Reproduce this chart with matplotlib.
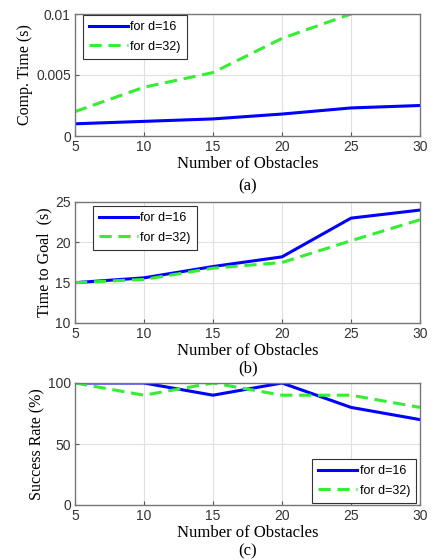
import numpy as np
import matplotlib.pyplot as plt

obstacles = [5, 10, 15, 20, 25, 30]
comp_d16 = [0.0010, 0.0012, 0.0014, 0.0018, 0.0023, 0.0025]
comp_d32 = [0.0020, 0.0040, 0.0052, 0.0080, 0.0100, 0.0120]
goal_d16 = [15.0, 15.6, 17.0, 18.2, 23.0, 24.0]
goal_d32 = [15.0, 15.4, 16.8, 17.5, 20.2, 22.8]
succ_d16 = [100, 100, 90, 100, 80, 70]
succ_d32 = [100, 90, 100, 90, 90, 80]
labels = ['for d=16', 'for d=32)']

sans = 'Liberation Sans'
serif = 'Liberation Serif'

fig = plt.figure(figsize=(4.32, 5.60), dpi=100)
W, H = 432.0, 560.0

def make_ax(top, bottom):
    return fig.add_axes([75 / W, 1 - bottom / H, 345 / W, (bottom - top) / H])

# axes, series, ylim, yticks, ylabel, caption, legend (left, top) px, caption y px
panels = [
    (make_ax(14, 136), comp_d16, comp_d32, (0, 0.01), [0, 0.005, 0.01], ['0', '0.005', '0.01'],
     'Comp. Time (s)', '(a)', (83, 15), 186),
    (make_ax(202, 323), goal_d16, goal_d32, (10, 25), [10, 15, 20, 25], ['10', '15', '20', '25'],
     'Time to Goal  (s)', '(b)', (93, 206), 368),
    (make_ax(383, 505), succ_d16, succ_d32, (0, 100), [0, 50, 100], ['0', '50', '100'],
     'Success Rate (%)', '(c)', (312, 459), 551),
]

for ax, d16, d32, ylim, yt, ytl, ylab, cap, legpos, capy in panels:
    ax.plot(obstacles, d16, color='#0000ff', lw=2.2, label=labels[0])
    ax.plot(obstacles, d32, color='#33ee33', lw=2.2, ls=(0, (4, 2.2)), label=labels[1])
    ax.set_xlim(5, 30)
    ax.set_ylim(*ylim)
    ax.set_xticks(obstacles)
    ax.set_xticklabels([str(v) for v in obstacles], family=sans, fontsize=10)
    ax.set_yticks(yt)
    ax.set_yticklabels(ytl, family=sans, fontsize=10)
    ax.grid(True, color='#e0e0e0', lw=0.8)
    ax.tick_params(direction='in', length=3, color='#555555', pad=3, labelcolor='#333333')
    for s in ax.spines.values():
        s.set_color('#777777')
        s.set_linewidth(1.0)
    ax.set_xlabel('Number of Obstacles', family=serif, fontsize=12, labelpad=1.5)
    ax.set_ylabel(ylab, family=serif, fontsize=11.5, labelpad=2)
    leg = ax.legend(loc='upper left', bbox_to_anchor=(legpos[0] / W, 1 - legpos[1] / H),
                    bbox_transform=fig.transFigure,
                    prop={'family': sans, 'size': 9}, handlelength=3.1,
                    fancybox=False, framealpha=1, edgecolor='#333333', borderpad=0.5,
                    labelspacing=0.6, handletextpad=0.2, borderaxespad=0)
    leg.get_frame().set_linewidth(0.8)
    fig.text(248 / W, 1 - capy / H, cap, family=serif, fontsize=12, ha='center', va='center')

fig.savefig('out.png', dpi=100)
